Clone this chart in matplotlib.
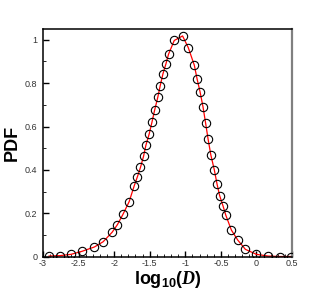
import matplotlib
matplotlib.use("Agg")
import matplotlib.pyplot as plt
import numpy as np
from matplotlib.ticker import MultipleLocator

# data (log10(D), PDF)
logD = [-2.915, -2.761, -2.606, -2.451, -2.277, -2.155, -2.028, -1.954,
        -1.877, -1.789, -1.718, -1.672, -1.630, -1.587, -1.554, -1.507,
        -1.469, -1.432, -1.387, -1.352, -1.314, -1.272, -1.235, -1.155,
        -1.038, -0.958, -0.873, -0.835, -0.793, -0.751, -0.714, -0.679,
        -0.641, -0.592, -0.554, -0.517, -0.469, -0.432, -0.352, -0.263,
        -0.155, 0.000, 0.165, 0.328, 0.483]
pdf = [0.002, 0.004, 0.010, 0.024, 0.044, 0.068, 0.112, 0.147,
       0.194, 0.253, 0.326, 0.369, 0.411, 0.462, 0.513, 0.566,
       0.619, 0.674, 0.734, 0.789, 0.843, 0.889, 0.934, 0.997,
       1.018, 0.964, 0.883, 0.821, 0.761, 0.691, 0.615, 0.541,
       0.469, 0.400, 0.335, 0.281, 0.233, 0.192, 0.122, 0.076,
       0.033, 0.010, 0.002, 0.000, 0.000]

xticks = [-3, -2.5, -2, -1.5, -1, -0.5, 0, 0.5]
xticklabels = ["-3", "-2.5", "-2", "-1.5", "-1", "-0.5", "0", "0.5"]
yticks = [0, 0.2, 0.4, 0.6, 0.8, 1]
yticklabels = ["0", "0.2", "0.4", "0.6", "0.8", "1"]

plt.rcParams['font.family'] = ['Liberation Sans', 'DejaVu Sans']
plt.rcParams['mathtext.fontset'] = 'custom'
plt.rcParams['mathtext.rm'] = 'Liberation Sans'
plt.rcParams['mathtext.bf'] = 'Liberation Sans:bold'
plt.rcParams['mathtext.it'] = 'Liberation Serif:italic:bold'

fig = plt.figure(figsize=(3.32, 2.95), dpi=100)
ax = fig.add_axes([0.1295, 0.1305, 0.75, 0.7712])

ax.plot(logD, pdf, color='red', lw=0.9, zorder=2)
ax.plot(logD, pdf, ls='none', marker='o', ms=6, mfc='none', mec='black',
        mew=0.8, zorder=3)

ax.set_xlim(-3, 0.5)
ax.set_ylim(0, 1.05)
ax.set_xticks(xticks)
ax.set_xticklabels(xticklabels)
ax.set_yticks(yticks)
ax.set_yticklabels(yticklabels)
ax.xaxis.set_minor_locator(MultipleLocator(0.1))
ax.yaxis.set_minor_locator(MultipleLocator(0.1))

ax.tick_params(which='both', direction='in', top=False, right=False,
               labelsize=6.5, labelcolor='#333333')
ax.tick_params(axis='x', which='both', pad=1.5)
ax.tick_params(axis='y', which='both', pad=4)
ax.tick_params(which='major', length=4, width=1)
ax.tick_params(which='minor', length=2, width=0.6)

for side in ['left', 'bottom', 'top']:
    ax.spines[side].set_linewidth(1.1)
    ax.spines[side].set_color('black')
ax.spines['right'].set_linewidth(1.6)
ax.spines['right'].set_color('#808080')

ax.set_xlabel(r'$\mathbf{log_{10}(}\mathit{D}\mathbf{)}$', fontsize=13, labelpad=1)
ax.set_ylabel('PDF', fontsize=13, fontweight='bold', labelpad=3)

fig.savefig('out.png', dpi=100)
